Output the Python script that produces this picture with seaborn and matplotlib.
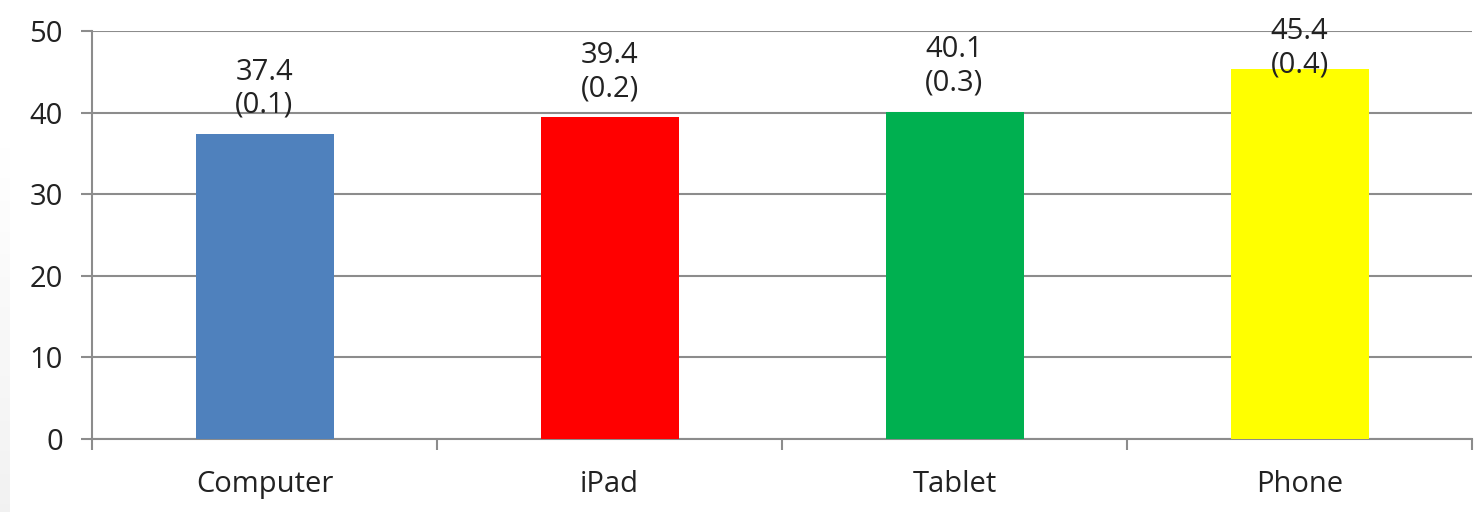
import numpy as np
import pandas as pd
import seaborn as sb
import matplotlib.pyplot as plt
from matplotlib.ticker import FixedLocator

#%% данные
devices = ["Computer", "iPad", "Tablet", "Phone"]
means = [37.4, 39.4, 40.1, 45.4]
errors = [0.1, 0.2, 0.3, 0.4]
colors = ["#4F81BD", "#FF0000", "#00B050", "#FFFF00"]
yticks = [0, 10, 20, 30, 40, 50]

df = pd.DataFrame({"device": devices, "mean": means})

#%% оформление
sb.set_style("white")
plt.rcParams["font.family"] = ["Open Sans", "DejaVu Sans"]
textcol = "#222222"
gridcol = "#8c8c8c"
fs = 21

fig = plt.figure(figsize=(14.83, 5.12), dpi=100)
ax = fig.add_axes([92/1483, 73/512, 1380/1483, 408/512])

# серая полоска слева (фон слайда), с лёгким градиентом
grad = np.linspace(0, 1, 50).reshape(-1, 1)
bg = fig.add_axes([0, 0, 10/1483, 0.74], zorder=-1)
bg.imshow(grad, cmap="Greys", vmin=0, vmax=9, aspect="auto", origin="upper")
bg.axis("off")

sb.barplot(data=df, x="device", y="mean", hue="device", palette=colors,
           width=0.4, legend=False, saturation=1, linewidth=0, ax=ax, zorder=3)

ax.set_xlim(-0.5, 3.5)
ax.set_ylim(0, 50)
ax.set_yticks(yticks)
ax.yaxis.grid(True, color=gridcol, linewidth=1.5, zorder=0)
ax.set_axisbelow(True)

for s in ["top", "right"]:
    ax.spines[s].set_visible(False)
for s in ["left", "bottom"]:
    ax.spines[s].set_color(gridcol)
    ax.spines[s].set_linewidth(1.5)

ax.tick_params(axis="y", length=8, width=1.5, color=gridcol, labelsize=fs,
               labelcolor=textcol, pad=13, left=True)
ax.tick_params(axis="x", which="major", length=0, labelsize=fs,
               labelcolor=textcol, pad=22)
ax.xaxis.set_minor_locator(FixedLocator(np.arange(-0.5, 4, 1)))
ax.tick_params(axis="x", which="minor", length=8, width=1.5, color=gridcol,
               bottom=True)
ax.set_xlabel("")
ax.set_ylabel("")

# подписи над столбцами (у самого высокого сдвигаем вниз, чтобы влезла)
for i, (m, e) in enumerate(zip(means, errors)):
    ax.annotate(f"{m}\n({e})", xy=(i, min(m, 42.4)), xytext=(0, 10),
                textcoords="offset points", ha="center", va="bottom",
                fontsize=fs, color=textcol, linespacing=1.2,
                annotation_clip=False, zorder=5)

fig.savefig("out.png", dpi=100)
